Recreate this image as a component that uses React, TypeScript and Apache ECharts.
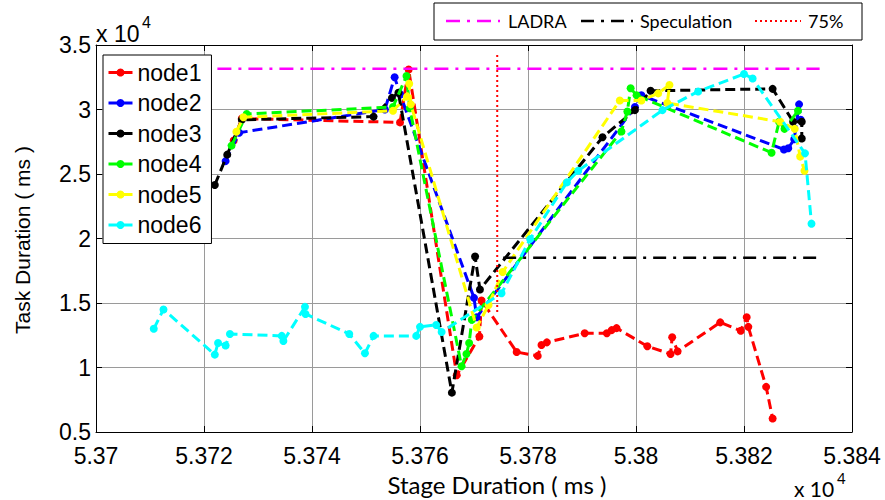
import React, { useEffect, useRef } from 'react';
import * as echarts from 'echarts';

const nodeNames = ['node1', 'node2', 'node3', 'node4', 'node5', 'node6'];
const nodeColors = ['#ff0000', '#0000ff', '#000000', '#00ff00', '#ffff00', '#00ffff'];

const node1 = [
  [53725.5, 27600], [53727, 29300], [53756.3, 29000], [53757.9, 33100], [53766.8, 9400],
  [53771, 12400], [53771.4, 15200], [53777.9, 11200], [53781.8, 10900], [53782.5, 11750],
  [53783.5, 11950], [53790.5, 12650], [53794.6, 12650], [53795.5, 12900], [53796.4, 13050],
  [53802.1, 11650], [53806.4, 11050], [53806.7, 12350], [53807.7, 11250], [53815.6, 13500],
  [53819.4, 12850], [53820.5, 13900], [53820.8, 13150], [53824.1, 8500], [53825.3, 6050],
];
const node2 = [
  [53724, 26000], [53726.5, 28200], [53753.5, 30000], [53755.3, 32500], [53756.3, 31200],
  [53770, 15400], [53770.5, 13900], [53799.8, 30200], [53801, 31100], [53827.4, 26900],
  [53828.2, 27000], [53829.3, 27700], [53830.2, 30400], [53830.5, 29200],
];
const node3 = [
  [53722, 24150], [53724.3, 26500], [53727, 29200], [53751.4, 29450], [53754.8, 30900],
  [53756, 31300], [53765.9, 8050], [53770.2, 18600], [53771.1, 16050], [53793.8, 27850],
  [53799.8, 29950], [53802.7, 31450], [53825.3, 31600], [53829.1, 29050], [53830.7, 29050],
  [53830.7, 27750],
];
const node4 = [
  [53725.1, 27200], [53727.9, 29650], [53755, 30200], [53757.5, 32600], [53758.1, 30100],
  [53767.7, 10100], [53768.6, 11050], [53769.1, 11900], [53769.6, 13700], [53797.3, 28300],
  [53798.4, 29850], [53799, 31650], [53800.1, 31100], [53825.1, 26650], [53826.5, 29050],
  [53827.5, 28500], [53830, 29900],
];
const node5 = [
  [53726, 28280], [53727.3, 29400], [53755, 29900], [53757.6, 31000], [53758, 32000],
  [53758.3, 30400], [53770.5, 13100], [53772.7, 14850], [53775.3, 17400], [53797, 30700],
  [53801, 30700], [53804.1, 31250], [53806.2, 31900], [53805.8, 30500], [53826.7, 29050],
  [53829.4, 28500], [53830.4, 26350], [53831.2, 25250],
];
const node6 = [
  [53710.7, 13000], [53712.5, 14500], [53722, 11000], [53722.6, 11900], [53724, 11700],
  [53724.8, 12600], [53734.4, 12450], [53734.7, 12050], [53738.7, 14700], [53738.8, 14150],
  [53746.9, 12600], [53749.8, 11100], [53751.4, 12450], [53759.3, 12450], [53760, 13150],
  [53763, 13300], [53764, 12750], [53775.1, 15750], [53780.4, 19950], [53787.2, 24350],
  [53789.3, 25250], [53804.9, 29950], [53811.5, 31400], [53820, 32750], [53821.6, 32400],
  [53831.3, 26600], [53832.5, 21150],
];
const nodeData = [node1, node2, node3, node4, node5, node6];

const refNames = ['LADRA', 'Speculation', '75%'];
const refColors = ['#ff00ff', '#000000', '#ff0000'];
const refDashes = [[14, 7, 3, 7], [13, 7, 3, 7], [2, 3]];
const refWidths = [2.5, 2.5, 2];
const ladraLine = [[53711, 33150], [53834, 33150]];
const specLine = [[53775.4, 18500], [53834, 18500]];
const p75Line = [[53774.3, 14300], [53774.3, 34300]];
const refData = [ladraLine, specLine, p75Line];

const xTickLabels = ['5.37', '5.372', '5.374', '5.376', '5.378', '5.38', '5.382', '5.384'];
const yTickLabels = ['0.5', '1', '1.5', '2', '2.5', '3', '3.5'];
const xMin = 53700, xMax = 53840, xStep = 20;
const yMin = 5000, yMax = 35000, yStep = 5000;

export default function App() {
  const ref = useRef<HTMLDivElement>(null);
  useEffect(() => {
    if (!ref.current) return;
    const chart = echarts.init(ref.current, null, { renderer: 'svg' });
    const arial = 'Liberation Sans, Arial, sans-serif';
    const cal = 'Lato, sans-serif';
    const tickInside = { show: true, inside: true, length: 6, lineStyle: { color: '#000' } };
    const nodeSeries = nodeNames.map((n, i) => ({
      name: n,
      type: 'line',
      data: nodeData[i],
      symbol: 'circle',
      symbolSize: 8,
      lineStyle: { color: nodeColors[i], width: 3, type: [10, 5] },
      itemStyle: { color: nodeColors[i] },
      z: 2 + i * 0.01,
    }));
    const refSeries = refNames.map((n, i) => ({
      name: n,
      type: 'line',
      data: refData[i],
      symbol: 'none',
      lineStyle: { color: refColors[i], width: refWidths[i], type: refDashes[i] },
      itemStyle: { color: refColors[i] },
      z: 3,
    }));
    const legIconX = [446, 581, 755];
    const legIconW = [54, 52, 46];
    const legTextX = [508, 640, 808];
    const topLegend: any[] = [
      { type: 'rect', shape: { x: 434, y: 3, width: 428, height: 37 }, style: { fill: '#fff', stroke: '#000', lineWidth: 1 }, z: 1 },
    ];
    refNames.forEach((n, i) => {
      topLegend.push({
        type: 'line', z: 2,
        shape: { x1: legIconX[i], y1: 21, x2: legIconX[i] + legIconW[i], y2: 21 },
        style: { stroke: refColors[i], lineWidth: refWidths[i], lineDash: refDashes[i] },
      });
      topLegend.push({
        type: 'text', x: legTextX[i], y: 21, z: 2,
        style: { text: n, font: '18px ' + cal, fill: '#000', textAlign: 'left', textVerticalAlign: 'middle' },
      });
    });
    chart.setOption({
      animation: false,
      grid: { left: 96, right: 33, top: 45, bottom: 68, show: false },
      xAxis: [
        {
          type: 'value', min: xMin, max: xMax, interval: xStep,
          axisLine: { show: true, lineStyle: { color: '#000', width: 1 } },
          axisTick: tickInside,
          axisLabel: {
            color: '#000', fontSize: 23, fontFamily: arial, margin: 12,
            formatter: (v: number) => xTickLabels[Math.round((v - xMin) / xStep)] ?? '',
          },
          splitLine: { show: true, lineStyle: { color: '#9a9a9a', width: 1 } },
        },
        {
          type: 'value', position: 'top', min: xMin, max: xMax, interval: xStep,
          axisLine: { show: true, onZero: false, lineStyle: { color: '#000', width: 1 } },
          axisTick: tickInside, axisLabel: { show: false }, splitLine: { show: false },
        },
      ],
      yAxis: [
        {
          type: 'value', min: yMin, max: yMax, interval: yStep,
          axisLine: { show: true, lineStyle: { color: '#000', width: 1 } },
          axisTick: tickInside,
          axisLabel: {
            color: '#000', fontSize: 23, fontFamily: arial, margin: 5,
            formatter: (v: number) => yTickLabels[Math.round((v - yMin) / yStep)] ?? '',
          },
          splitLine: { show: true, lineStyle: { color: '#9a9a9a', width: 1 } },
        },
        {
          type: 'value', position: 'right', min: yMin, max: yMax, interval: yStep,
          axisLine: { show: true, onZero: false, lineStyle: { color: '#000', width: 1 } },
          axisTick: tickInside, axisLabel: { show: false }, splitLine: { show: false },
        },
      ],
      legend: [
        {
          data: nodeNames,
          orient: 'vertical',
          left: 103, top: 55,
          padding: [6, 10, 7, 4],
          itemWidth: 24, itemHeight: 10, itemGap: 7.5,
          backgroundColor: '#fff', borderColor: '#000', borderWidth: 1,
          selectedMode: false,
          lineStyle: { type: 'solid', width: 3 },
          textStyle: { fontSize: 23, lineHeight: 23, fontFamily: arial, color: '#000' },
          z: 10,
        },
      ],
      graphic: [
        ...topLegend,
        { type: 'text', x: 22, y: 240, rotation: Math.PI / 2, style: { text: 'Task Duration ( ms )', font: '21px ' + arial, fill: '#000', textAlign: 'center', textVerticalAlign: 'middle' } },
        { type: 'text', x: 497, y: 484, style: { text: 'Stage Duration ( ms )', font: '24px ' + cal, fill: '#000', textAlign: 'center', textVerticalAlign: 'middle' } },
        { type: 'text', x: 96, y: 45, style: { text: 'x 10', font: '23px ' + arial, fill: '#000', textAlign: 'left', textVerticalAlign: 'bottom' } },
        { type: 'text', x: 142, y: 30, style: { text: '4', font: '16px ' + arial, fill: '#000', textAlign: 'left', textVerticalAlign: 'bottom' } },
        { type: 'text', x: 794, y: 499, style: { text: 'x 10', font: '21px ' + cal, fill: '#000', textAlign: 'left', textVerticalAlign: 'bottom' } },
        { type: 'text', x: 837, y: 485, style: { text: '4', font: '15px ' + cal, fill: '#000', textAlign: 'left', textVerticalAlign: 'bottom' } },
      ],
      series: [...nodeSeries, ...refSeries],
    });
    return () => chart.dispose();
  }, []);
  return <div ref={ref} style={{ position: 'fixed', left: 0, top: 0, width: 885, height: 500, background: '#fff' }} />;
}
